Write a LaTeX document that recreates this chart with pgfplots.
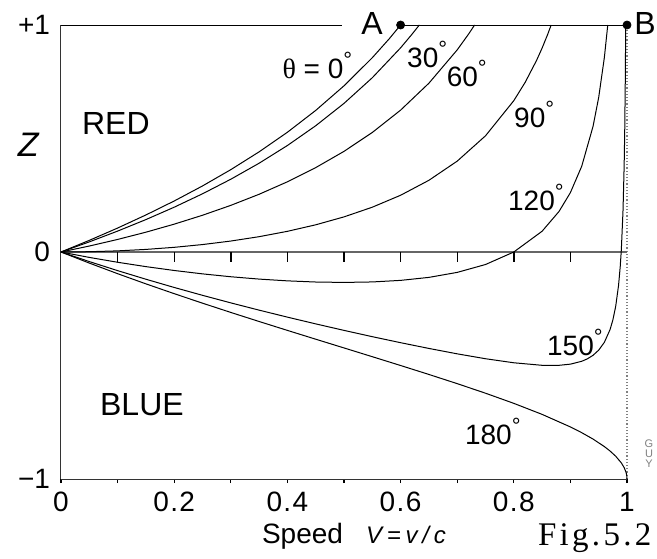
\documentclass[border=0pt]{standalone}
\usepackage{fontspec}
\setmainfont{Liberation Sans}
\newfontfamily\figfont[LetterSpace=10]{Liberation Serif}
\newfontfamily\serifplain{Liberation Serif}
\newfontfamily\spacedsans[LetterSpace=20]{Liberation Sans}
\newfontfamily\ticksans[LetterSpace=5]{Liberation Sans}
\usepackage{pgfplots}
\pgfplotsset{compat=1.18}
\newcommand\lbl{\fontsize{14}{16}\selectfont}
\newcommand\dg{\raisebox{5.5pt}{\fontsize{11}{11}\selectfont °}}

% Z = gamma (1 + V cos theta) - 1, values tabulated by hand
\begin{document}
\begin{tikzpicture}
\begin{axis}[
  width=283pt, height=227pt, scale only axis,
  xmin=0, xmax=1, ymin=-1, ymax=1,
  axis x line=bottom, axis y line=left,
  axis line style={-, line width=0.5pt, black!80},
  xtick={0,0.2,0.4,0.6,0.8,1},
  xticklabels={0,0.2,0.4,0.6,0.8,1},
  minor xtick={0.1,0.3,0.5,0.7,0.9},
  tick align=outside,
  major tick length=2pt, minor tick length=2pt,
  x tick style={black, line width=0.6pt},
  ytick={-1,0,1},
  yticklabels={−1,0,+1\hspace{3pt}},
  y tick style={draw=none},
  x tick label style={font=\ticksans\lbl, yshift=-1pt, text depth=0pt},
  y tick label style={font=\lbl},
  clip=false,
  every node/.append style={inner sep=0pt},
]
% page frame
\coordinate (bbsw) at (axis cs:-0.10777,-1.34802);
\coordinate (bbne) at (axis cs:1.05300,1.11013);

% frame pieces
\addplot[black, line width=0.5pt] coordinates {(0,1) (0.496,1)};
\addplot[black, line width=0.5pt] coordinates {(0.6,1) (1,1)};
\addplot[gray, densely dotted, line width=0.6pt] coordinates {(1,-1) (1,1)};
\addplot[black!60, line width=0.6pt] coordinates {(0,0) (1,0)};
\addplot[ycomb, black, line width=0.7pt] coordinates {
  (0.1,-0.044) (0.2,-0.044) (0.3,-0.044) (0.4,-0.044) (0.5,-0.044)
  (0.6,-0.044) (0.7,-0.044) (0.8,-0.044) (0.9,-0.044)};

% theta = 0
\addplot[black, line width=0.5pt] coordinates {
  (0,0) (0.05,0.0513) (0.1,0.1055) (0.15,0.1632) (0.2,0.2247) (0.25,0.2910)
  (0.3,0.3628) (0.35,0.4412) (0.4,0.5275) (0.45,0.6237) (0.5,0.7321)
  (0.55,0.8559) (0.58,0.9396) (0.6,1)};
% theta = 30
\addplot[black, line width=0.5pt] coordinates {
  (0,0) (0.05,0.0446) (0.1,0.0921) (0.15,0.1428) (0.2,0.1974) (0.25,0.2564)
  (0.3,0.3206) (0.35,0.3911) (0.4,0.4691) (0.45,0.5562) (0.5,0.6547)
  (0.55,0.7677) (0.6,0.8995) (0.62,0.9589) (0.6331,1)};
% theta = 60
\addplot[black, line width=0.5pt] coordinates {
  (0,0) (0.05,0.0263) (0.1,0.0553) (0.15,0.0873) (0.2,0.1227) (0.25,0.1619)
  (0.3,0.2055) (0.35,0.2543) (0.4,0.3093) (0.45,0.3717) (0.5,0.4434)
  (0.55,0.5266) (0.6,0.625) (0.65,0.7436) (0.7,0.8904) (0.72,0.9597) (0.7307,1)};
% theta = 90
\addplot[black, line width=0.5pt] coordinates {
  (0,0) (0.05,0.0013) (0.1,0.0050) (0.15,0.0114) (0.2,0.0206) (0.25,0.0328)
  (0.3,0.0483) (0.35,0.0675) (0.4,0.0911) (0.45,0.1198) (0.5,0.1547)
  (0.55,0.1974) (0.6,0.25) (0.65,0.3159) (0.7,0.4003) (0.75,0.5119)
  (0.8,0.6667) (0.82,0.7471) (0.84,0.8430) (0.85,0.8983) (0.86,0.9597) (0.866,1)};
% theta = 120
\addplot[black, line width=0.5pt] coordinates {
  (0,0) (0.05,-0.0238) (0.1,-0.0452) (0.15,-0.0644) (0.2,-0.0814) (0.25,-0.0963)
  (0.3,-0.1090) (0.35,-0.1193) (0.4,-0.1271) (0.45,-0.1322) (0.5,-0.1340)
  (0.55,-0.1319) (0.6,-0.125) (0.65,-0.1118) (0.7,-0.0898) (0.75,-0.0551)
  (0.8,0) (0.85,0.0915) (0.88,0.1790) (0.9,0.2618) (0.92,0.3778) (0.94,0.5535)
  (0.95,0.6813) (0.96,0.8571) (0.966,1)};
% theta = 150
\addplot[black, line width=0.5pt] coordinates {
  (0,0) (0.05,-0.0421) (0.1,-0.0820) (0.15,-0.1199) (0.2,-0.1562) (0.25,-0.1908)
  (0.3,-0.2241) (0.35,-0.2561) (0.4,-0.2869) (0.45,-0.3166) (0.5,-0.3453)
  (0.55,-0.3730) (0.6,-0.3995) (0.65,-0.4248) (0.7,-0.4486) (0.75,-0.4701)
  (0.8,-0.4880) (0.85,-0.4991) (0.88,-0.4991) (0.9,-0.4940) (0.92,-0.4814)
  (0.93,-0.4706) (0.94,-0.4550) (0.95,-0.4323) (0.96,-0.3978) (0.97,-0.3420)
  (0.975,-0.2996) (0.98,-0.2397) (0.985,-0.1483) (0.988,-0.0653) (0.99,0.0111)
  (0.993,0.1856) (0.995,0.3848) (0.996,0.5382) (0.997,0.7645) (0.9977,1)};
% theta = 180
\addplot[black, line width=0.5pt] coordinates {
  (0,0) (0.05,-0.0488) (0.1,-0.0955) (0.15,-0.1403) (0.2,-0.1835) (0.25,-0.2254)
  (0.3,-0.2662) (0.35,-0.3061) (0.4,-0.3453) (0.45,-0.3841) (0.5,-0.4226)
  (0.55,-0.4612) (0.6,-0.5) (0.65,-0.5394) (0.7,-0.5799) (0.75,-0.6220)
  (0.8,-0.6667) (0.85,-0.7153) (0.9,-0.7706) (0.92,-0.7959) (0.94,-0.8241)
  (0.96,-0.8571) (0.97,-0.8766) (0.98,-0.8995) (0.99,-0.9291) (0.995,-0.9499)
  (0.998,-0.9684) (0.999,-0.9776) (0.9995,-0.9842) (1,-1)};

% A and B
\addplot[only marks, mark=*, mark size=2pt, black] coordinates {(0.6,1) (1,1)};

\node[font=\fontsize{16}{18}\selectfont] at (axis cs:0.5495,1.0066) {A};
\node[font=\fontsize{16}{18}\selectfont] at (axis cs:1.0318,1.0066) {B};

\node[font=\fontsize{16}{18}\selectfont] at (axis cs:0.097,0.568) {RED};
\node[font=\fontsize{16}{18}\selectfont] at (axis cs:0.143,-0.674) {BLUE};
\node[font=\fontsize{17}{19}\selectfont\itshape] at (axis cs:-0.058,0.474) {Z};

\node[font=\lbl] at (axis cs:0.453,0.824) {{\serifplain θ} = 0\dg};
\node[font=\lbl] at (axis cs:0.647,0.872) {30\dg};
\node[font=\lbl] at (axis cs:0.717,0.786) {60\dg};
\node[font=\lbl] at (axis cs:0.836,0.608) {90\dg};
\node[font=\lbl] at (axis cs:0.839,0.242) {120\dg};
\node[font=\lbl] at (axis cs:0.908,-0.400) {150\dg};
\node[font=\lbl] at (axis cs:0.763,-0.789) {180\dg};

\node[anchor=base, font=\lbl, text height=10pt] at (axis cs:0.4267,-1.2819) {Speed};
\node[anchor=base, font=\spacedsans\fontsize{12}{14}\selectfont\itshape, text height=9pt]
  at (axis cs:0.6095,-1.2819) {V=v/c};
\node[anchor=base, font=\fontsize{16.5}{18}\selectfont\figfont, text height=11pt]
  at (axis cs:0.943,-1.2951) {Fig.5.2};
\node[text=gray, font=\fontsize{5.5}{5}\selectfont] at (axis cs:1.0389,-0.8458) {G};
\node[text=gray, font=\fontsize{5.5}{5}\selectfont] at (axis cs:1.0389,-0.8898) {U};
\node[text=gray, font=\fontsize{5.5}{5}\selectfont] at (axis cs:1.0389,-0.9338) {Y};
\end{axis}
\pgfresetboundingbox
\path[use as bounding box] (bbsw) rectangle (bbne);
\end{tikzpicture}
\end{document}
